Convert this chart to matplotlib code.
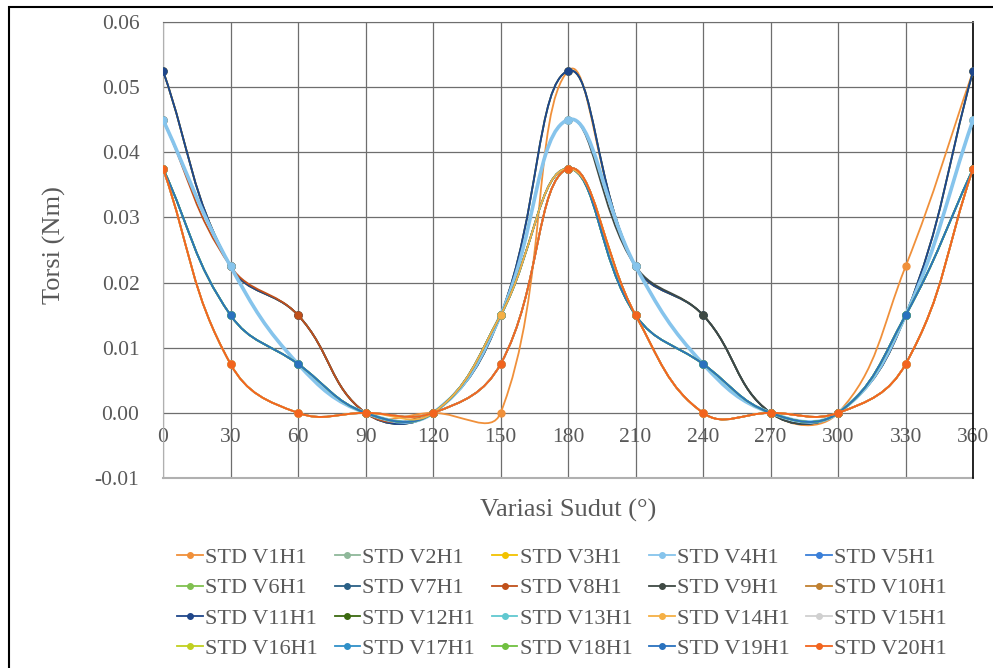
import numpy as np
import matplotlib
matplotlib.use("Agg")
import matplotlib.pyplot as plt
from matplotlib.path import Path
from matplotlib.patches import PathPatch, Rectangle
from matplotlib.lines import Line2D

plt.rcParams['font.family'] = ['Liberation Serif', 'DejaVu Serif']

# sudut (derajat)
sudut = [0, 30, 60, 90, 120, 150, 180, 210, 240, 270, 300, 330, 360]

# bentuk kurva torsi yang terbaca dari gambar
torsi_a = [0.0525, 0.0225, 0.015, 0, 0, 0.015, 0.0525, 0.0225, 0.015, 0, 0, 0.015, 0.0525]
torsi_b = [0.045, 0.0225, 0.0075, 0, 0, 0.015, 0.045, 0.0225, 0.0075, 0, 0, 0.015, 0.045]
torsi_c = [0.0375, 0.015, 0.0075, 0, 0, 0.015, 0.0375, 0.015, 0.0075, 0, 0, 0.015, 0.0375]
torsi_d = [0.0375, 0.0075, 0, 0, 0, 0.0075, 0.0375, 0.015, 0, 0, 0, 0.0075, 0.0375]
torsi_e = [0.0525, 0.0225, 0.015, 0, 0, 0, 0.0525, 0.0225, 0.015, 0, 0, 0.0225, 0.0525]
torsi_f = [0.0375, 0.0075, 0, 0, 0, 0.015, 0.0375, 0.015, 0, 0, 0, 0.0075, 0.0375]
torsi_g = [0.045, 0.0225, 0.015, 0, 0, 0.0075, 0.0375, 0.015, 0, 0, 0, 0.0075, 0.0375]
torsi_h = [0.045, 0.0225, 0.0075, 0, 0, 0.015, 0.045, 0.0225, 0.015, 0, 0, 0.015, 0.045]

nama = ['STD V%dH1' % i for i in range(1, 21)]
data = [torsi_e, torsi_b, torsi_a, torsi_b, torsi_c,
        torsi_c, torsi_a, torsi_g, torsi_h, torsi_d,
        torsi_a, torsi_d, torsi_c, torsi_f, torsi_d,
        torsi_c, torsi_c, torsi_c, torsi_c, torsi_d]
warna = ['#F0903A', '#8FB89A', '#F2C200', '#86C4EC', '#3A7FD8',
         '#80C050', '#2A6086', '#C0501A', '#3F4A44', '#C08030',
         '#1F468A', '#3C6A10', '#60C8D0', '#F5B045', '#D0D0D0',
         '#C0D020', '#3090C8', '#70C040', '#2A72BE', '#F2641E']
# urutan tumpukan garis
lapisan = [2, 5, 3, 5, 6, 6, 3, 4, 4, 6,
           3, 6, 6, 6.055, 6, 6, 6, 6, 6, 6]
tebal = [1.3] * 20
tebal[3] = 2.6

# skala piksel kira-kira (supaya kelengkungan mirip excel)
SX, SY = 2.25, 6520.0
TEGANG = 0.42


def smooth_path(x, y):
    # bezier halus dengan panjang tangen proporsional jarak segmen
    p = np.column_stack([np.array(x) * SX, np.array(y) * SY]).astype(float)
    n = len(p)
    c_out = np.zeros_like(p)
    c_in = np.zeros_like(p)
    for i in range(n):
        a = p[i - 1] if i > 0 else p[i]
        b = p[i + 1] if i < n - 1 else p[i]
        t = b - a
        d0 = np.hypot(*(p[i] - a))
        d1 = np.hypot(*(b - p[i]))
        s = d0 + d1 if d0 + d1 > 0 else 1.0
        c_out[i] = p[i] + t * (d1 / s) * TEGANG
        c_in[i] = p[i] - t * (d0 / s) * TEGANG
    verts = [p[0]]
    codes = [Path.MOVETO]
    for i in range(n - 1):
        verts += [c_out[i], c_in[i + 1], p[i + 1]]
        codes += [Path.CURVE4] * 3
    verts = np.array(verts) / [SX, SY]
    return Path(verts, codes)


fig = plt.figure(figsize=(9.93, 6.68), dpi=100)
ax = fig.add_axes([0.1642, 0.2844, 0.8158, 0.6826])

handles = []
for i in range(20):
    z = lapisan[i] + i * 0.01
    ax.add_patch(PathPatch(smooth_path(sudut, data[i]), facecolor='none',
                           edgecolor=warna[i], lw=tebal[i], zorder=z))
    ax.plot(sudut, data[i], 'o', color=warna[i], ms=5, zorder=z + 0.005)
    handles.append(Line2D([], [], color=warna[i], lw=1.3, marker='o', ms=4))

ax.set_xlim(0, 360)
ax.set_ylim(-0.01, 0.06)
ax.set_xticks(sudut)
ax.set_yticks(np.arange(-0.01, 0.061, 0.01))
ax.set_yticklabels(['-0.01', '0.00', '0.01', '0.02', '0.03', '0.04', '0.05', '0.06'])
ax.grid(True, color='#6E6E6E', lw=0.9)
ax.set_axisbelow(True)

ax.spines['bottom'].set_position(('data', 0))
ax.spines['bottom'].set_visible(False)
ax.spines['left'].set_color('#B0B0B0')
ax.spines['top'].set_color('#6E6E6E')
ax.spines['right'].set_color('#000000')
ax.spines['right'].set_linewidth(1.2)
ax.axhline(-0.01, color='#B0B0B0', lw=1.5, clip_on=False, zorder=1)

ax.tick_params(axis='both', length=0, labelsize=15.5, labelcolor='#595959')
ax.tick_params(axis='x', pad=11)
ax.tick_params(axis='y', pad=17)

ax.set_xlabel('Variasi Sudut (°)', fontsize=19, color='#595959', labelpad=0)
ax.xaxis.set_label_coords(0.5, -0.045)
ax.set_ylabel('Torsi (Nm)', fontsize=19, color='#595959')
ax.yaxis.set_label_coords(-0.12, 0.511)

# legend diisi per baris seperti excel
urut = [r * 5 + c for c in range(5) for r in range(4)]
leg = fig.legend([handles[k] for k in urut], [nama[k] for k in urut],
                 ncol=5, loc='center', bbox_to_anchor=(0.566, 0.097),
                 frameon=False, fontsize=16, handlelength=1.15, handletextpad=0.1,
                 columnspacing=0.75, labelspacing=0.44)
for t in leg.get_texts():
    t.set_color('#595959')

fig.patches.append(Rectangle((0.009, -0.1), 1.2, 1.0895, transform=fig.transFigure,
                             fill=False, edgecolor='black', lw=1.5))

fig.savefig('out.png', dpi=100)
